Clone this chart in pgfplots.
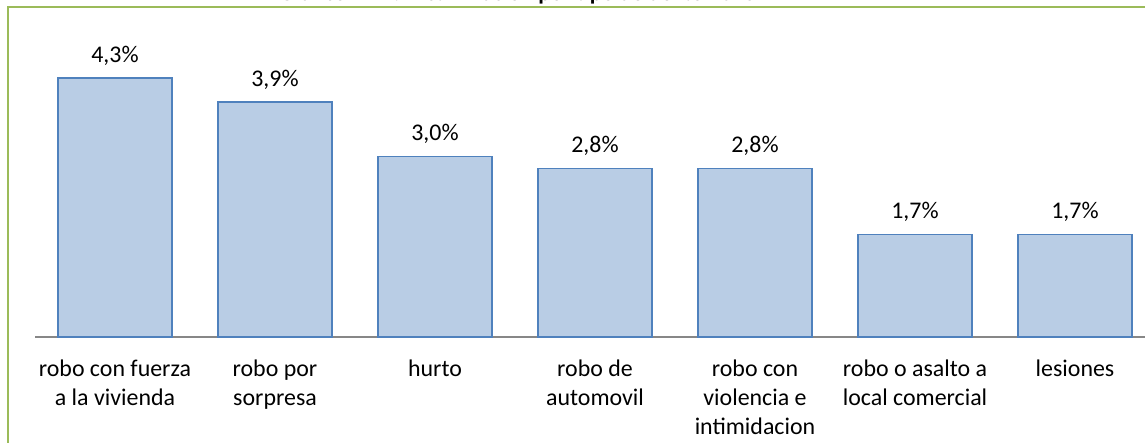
\documentclass[border=0pt]{standalone}
\usepackage{pgfplots}
\pgfplotsset{compat=1.18}
\usepackage{fontspec}
\setmainfont{Carlito}
\definecolor{barfill}{HTML}{B9CDE5}
\definecolor{barline}{HTML}{4F81BD}
\definecolor{frame}{HTML}{9BBB59}
\definecolor{axgray}{HTML}{878787}
\begin{document}
\begin{tikzpicture}[x=1bp,y=1bp]
\useasboundingbox (0,0) rectangle (572.5,221);
\clip (0,0) rectangle (572.5,221);
\node[anchor=base,font=\fontsize{11.5}{13}\selectfont\bfseries] at (258.5,220.6) {Gráfico Nº 4: Victimización por tipo de delito 2013};
\draw[frame,line width=1bp] (4,-2) -- (4,217.5) -- (580,217.5);
\begin{axis}[
  at={(17.5bp,52.5bp)}, anchor=south west,
  scale only axis,
  width=560bp, height=150.5bp,
  xmin=-0.5, xmax=6.5, ymin=0, ymax=5,
  hide y axis,
  axis x line*=bottom,
  x axis line style={-, draw=axgray, line width=0.75bp},
  xtick=data,
  major tick length=0pt,
  xticklabels={{robo con fuerza\\a la vivienda},{robo por\\sorpresa},{hurto},{robo de\\automovil},{robo con\\violencia e\\intimidacion},{robo o asalto a\\local comercial},{lesiones}},
  xticklabel style={align=center, anchor=north, yshift=-8bp, font=\fontsize{12}{14.5}\selectfont},
  ybar, bar width=57bp,
  nodes near coords={\pgfmathprintnumber[fixed,fixed zerofill,precision=1,use comma,assume math mode=true]{\pgfplotspointmeta}\%},
  nodes near coords style={anchor=base, yshift=8bp, font=\fontsize{12}{14}\selectfont, text=black},
  clip=false,
]
\addplot[fill=barfill, draw=barline, line width=0.75bp] coordinates {(0,4.3) (1,3.9) (2,3.0) (3,2.8) (4,2.8) (5,1.7) (6,1.7)};
\end{axis}
\end{tikzpicture}
\end{document}
